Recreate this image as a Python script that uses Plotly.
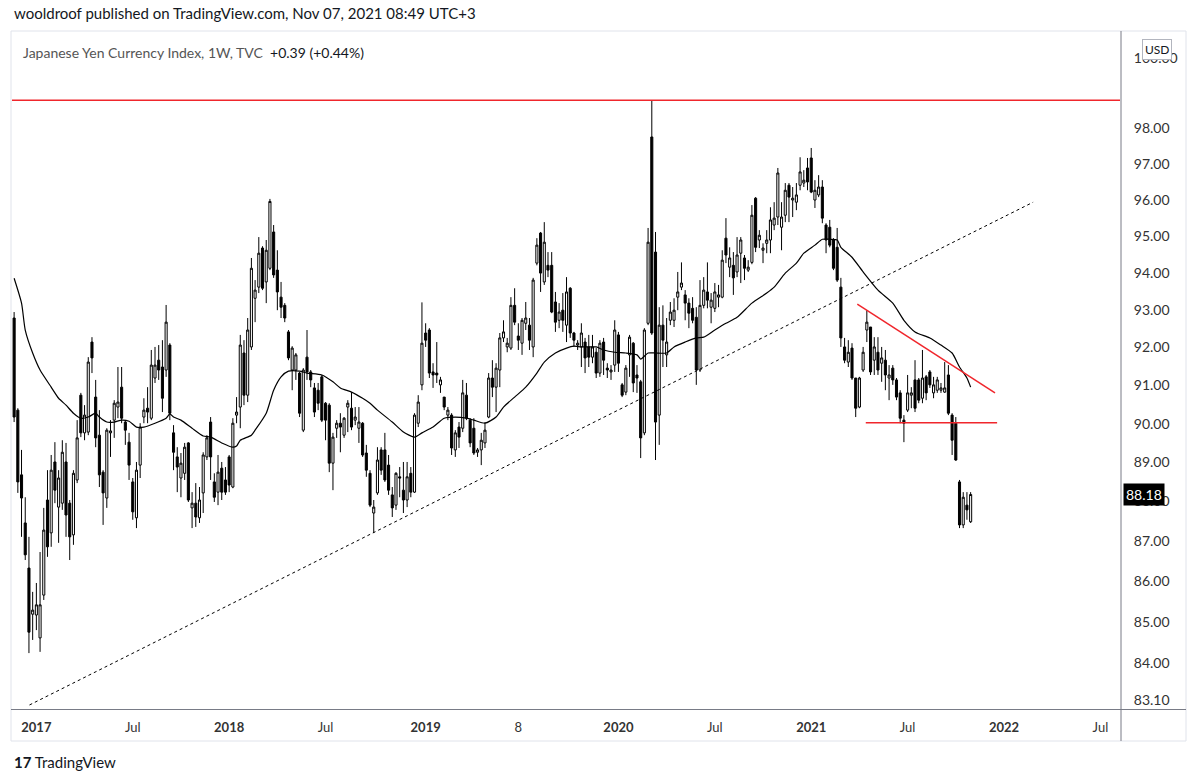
import math
import pandas as pd
import plotly.graph_objects as go

# ---------------- data (weekly bars, first bar week of 2016-11-21) ----------------
first_week = "2016-11-21"

opens = [92.78, 90.35, 88.68, 87.46, 86.33, 85.19, 85.17, 84.61, 85.66, 88.04,
         87.21, 89.01, 87.86, 87.96, 89.01, 87.96, 87.16, 88.55, 90.74, 89.76,
         89.78, 92.14, 90.69, 89.70, 88.75, 88.09, 89.76, 90.09, 90.43, 90.95,
         90.04, 89.52, 88.50, 87.59, 88.93, 90.17, 90.40, 90.14, 91.19, 91.66,
         91.48, 91.40, 92.06, 89.76, 89.14, 88.60, 88.72, 89.50, 87.84, 87.96,
         87.59, 88.22, 89.14, 90.04, 88.50, 88.24, 88.85, 88.55, 89.14, 88.37,
         90.22, 90.43, 91.85, 90.74, 92.01, 93.31, 93.61, 94.67, 93.75, 94.12,
         95.11, 94.07, 93.34, 93.12, 92.41, 91.40, 91.40, 91.32, 89.83, 91.74,
         91.35, 90.93, 90.87, 91.22, 90.53, 90.48, 88.98, 89.88, 90.01, 89.70,
         90.43, 90.40, 90.09, 89.88, 90.01, 89.24, 88.72, 87.71, 88.22, 89.32,
         89.32, 88.93, 88.17, 87.91, 88.63, 88.29, 88.04, 88.72, 88.24, 90.01,
         91.01, 92.38, 92.46, 91.35, 91.32, 91.01, 90.69, 90.22, 90.22, 89.32,
         89.91, 89.88, 90.74, 90.09, 89.88, 89.26, 89.32, 89.50, 90.17, 91.19,
         90.95, 91.40, 92.25, 92.01, 91.98, 93.12, 92.30, 92.11, 92.64, 92.59,
         92.01, 94.26, 95.08, 93.75, 94.20, 94.20, 93.21, 92.72, 92.99, 92.59,
         93.58, 92.38, 92.06, 92.01, 92.14, 92.01, 91.74, 91.87, 91.32, 92.14,
         91.45, 91.35, 91.53, 92.33, 91.01, 90.82, 91.80, 92.11, 91.27, 91.09,
         89.76, 92.64, 97.75, 94.56, 90.22, 92.59, 91.80, 92.72, 92.72, 93.34,
         93.61, 93.40, 93.18, 93.04, 92.80, 91.40, 93.12, 93.48, 93.07, 93.04,
         93.34, 93.34, 94.94, 94.15, 94.20, 94.02, 94.53, 94.40, 94.07, 94.28,
         96.04, 94.89, 94.61, 94.80, 94.89, 95.30, 95.52, 95.24, 95.57, 96.40,
         95.99, 95.93, 96.40, 96.46, 96.88, 97.16, 95.99, 96.13, 96.35, 95.30,
         95.24, 94.89, 94.69, 93.61, 92.01, 91.61, 91.98, 91.19, 90.43, 91.40,
         92.46, 92.54, 91.66, 91.87, 91.58, 91.66, 91.19, 91.45, 91.14, 90.80,
         90.09, 90.35, 90.74, 91.14, 91.14, 90.66, 91.22, 91.35, 90.80, 90.87,
         90.87, 90.82, 91.27, 90.22, 90.01, 88.50, 87.41, 87.91, 87.49]

highs = [92.94, 90.40, 89.32, 88.11, 87.11, 85.74, 85.96, 86.73, 87.84, 88.80,
         89.19, 89.52, 88.80, 89.57, 89.50, 88.04, 88.80, 90.09, 90.80, 90.48,
         91.74, 92.27, 91.14, 90.35, 88.80, 89.88, 90.09, 90.61, 91.48, 91.48,
         90.09, 89.76, 88.60, 89.01, 90.01, 90.66, 90.95, 91.93, 92.01, 92.06,
         92.19, 93.13, 92.11, 89.96, 89.39, 89.24, 89.50, 89.52, 88.24, 88.47,
         88.37, 89.26, 89.70, 90.17, 88.72, 89.19, 89.01, 88.88, 89.19, 90.14,
         90.69, 92.33, 92.19, 92.78, 94.40, 93.80, 94.97, 94.72, 94.89, 96.02,
         95.30, 94.61, 93.75, 93.18, 92.46, 92.03, 91.85, 91.35, 91.45, 92.46,
         91.40, 91.06, 91.06, 91.27, 90.56, 90.53, 89.76, 90.09, 90.27, 90.17,
         90.61, 90.82, 90.43, 90.43, 90.04, 89.45, 88.80, 88.04, 89.39, 89.39,
         89.76, 89.19, 88.37, 88.75, 88.88, 89.01, 89.01, 88.88, 90.27, 90.74,
         93.20, 92.64, 92.51, 91.58, 92.14, 91.22, 90.69, 90.43, 90.27, 89.83,
         90.04, 91.14, 91.06, 90.14, 90.14, 89.37, 89.76, 90.04, 91.32, 91.66,
         91.58, 92.38, 92.72, 92.25, 93.34, 93.58, 92.64, 92.78, 93.21, 92.78,
         93.86, 94.94, 95.11, 95.38, 94.56, 94.56, 93.48, 93.18, 93.45, 93.88,
         93.61, 92.41, 92.19, 92.64, 92.25, 92.33, 92.33, 91.98, 92.19, 92.25,
         91.58, 91.53, 92.72, 92.41, 91.06, 91.53, 92.33, 92.14, 91.53, 91.14,
         92.51, 95.22, 98.79, 95.11, 93.07, 93.12, 92.78, 93.21, 93.31, 94.02,
         94.28, 93.53, 93.31, 93.34, 93.07, 93.80, 93.88, 94.28, 93.45, 93.72,
         93.67, 94.61, 95.49, 94.69, 94.56, 94.97, 94.97, 94.48, 94.34, 95.85,
         96.07, 95.16, 94.80, 95.16, 95.79, 95.93, 96.88, 95.93, 96.46, 96.46,
         96.35, 96.46, 97.18, 96.82, 97.16, 97.44, 96.54, 96.68, 96.54, 95.35,
         95.44, 94.94, 95.22, 93.86, 92.25, 92.19, 92.11, 91.19, 91.22, 92.01,
         92.99, 92.54, 92.27, 92.27, 92.01, 91.93, 91.53, 91.53, 91.19, 90.87,
         90.22, 91.27, 90.95, 91.66, 91.19, 91.93, 91.27, 91.40, 91.22, 91.22,
         91.06, 91.61, 91.53, 90.27, 90.17, 88.55, 88.24, 88.24, 88.24]

lows = [90.04, 88.22, 87.11, 86.53, 84.24, 84.56, 84.80, 84.27, 85.54, 86.61,
        86.86, 87.96, 86.96, 87.79, 87.11, 86.53, 86.91, 88.47, 89.65, 89.57,
        89.70, 91.32, 89.39, 88.37, 87.41, 87.84, 89.14, 89.63, 90.14, 90.01,
        89.45, 88.55, 87.54, 87.33, 88.60, 90.01, 90.01, 90.09, 91.06, 91.14,
        90.30, 91.22, 90.09, 88.80, 88.24, 88.11, 88.55, 87.99, 87.33, 87.36,
        87.46, 87.71, 89.06, 88.55, 87.99, 87.91, 88.04, 88.17, 88.24, 88.34,
        90.01, 89.88, 90.48, 90.56, 91.93, 92.67, 93.45, 93.53, 93.18, 94.07,
        93.86, 92.99, 92.78, 92.67, 91.66, 90.87, 91.14, 90.17, 89.78, 91.14,
        90.95, 90.17, 90.35, 90.04, 89.57, 88.75, 88.29, 89.63, 89.26, 89.63,
        89.78, 89.83, 89.96, 89.50, 89.14, 88.63, 87.86, 87.21, 88.17, 88.68,
        88.50, 88.17, 87.61, 87.79, 88.11, 87.71, 87.86, 88.11, 88.22, 89.91,
        90.87, 92.01, 91.19, 90.93, 91.06, 90.80, 90.35, 90.09, 89.19, 89.14,
        89.37, 89.78, 90.09, 89.39, 89.19, 89.14, 88.93, 89.37, 90.14, 90.69,
        90.30, 90.95, 92.14, 91.87, 91.93, 92.59, 91.93, 91.80, 92.46, 91.93,
        91.74, 94.20, 93.48, 93.67, 93.88, 92.91, 92.41, 92.51, 92.41, 92.14,
        92.25, 92.01, 91.93, 91.48, 91.32, 91.48, 91.58, 91.19, 91.22, 91.27,
        91.19, 91.14, 91.35, 91.35, 90.69, 90.74, 91.22, 90.82, 90.80, 89.11,
        89.70, 92.59, 92.33, 89.06, 89.45, 91.48, 91.48, 92.59, 92.54, 92.99,
        93.53, 92.72, 92.51, 92.64, 91.01, 91.35, 93.04, 93.04, 92.64, 92.94,
        93.07, 93.31, 94.26, 93.88, 93.40, 93.88, 93.72, 93.80, 94.02, 94.23,
        94.56, 94.67, 94.26, 94.53, 94.53, 95.16, 95.30, 94.61, 95.38, 95.38,
        95.52, 95.71, 96.26, 96.35, 96.26, 96.18, 95.77, 96.07, 95.35, 94.53,
        94.69, 94.07, 93.75, 92.01, 91.58, 91.48, 91.14, 90.17, 90.40, 91.35,
        92.14, 91.27, 91.27, 91.27, 91.09, 90.87, 90.61, 91.01, 90.61, 90.01,
        89.52, 90.30, 90.40, 90.30, 90.53, 90.53, 90.61, 90.93, 90.66, 90.80,
        90.80, 90.80, 90.22, 89.19, 89.04, 87.33, 87.33, 87.54, 87.46]

closes = [90.17, 88.50, 88.09, 86.66, 84.75, 85.29, 85.42, 85.42, 87.28, 86.86,
          88.80, 88.29, 88.60, 89.26, 87.66, 87.11, 88.72, 89.63, 89.76, 90.22,
          91.61, 91.72, 89.63, 88.68, 88.22, 89.83, 89.81, 90.53, 90.56, 90.14,
          89.83, 88.93, 87.74, 88.80, 89.91, 90.35, 90.30, 91.53, 91.53, 91.40,
          90.66, 92.67, 90.27, 89.26, 88.88, 88.98, 89.39, 88.04, 87.96, 87.61,
          88.04, 89.19, 89.63, 89.14, 88.11, 88.75, 88.24, 88.24, 88.42, 90.01,
          90.30, 92.06, 90.74, 92.46, 94.12, 93.53, 94.53, 93.58, 94.61, 95.95,
          93.94, 93.48, 93.07, 92.78, 91.72, 91.98, 91.80, 90.27, 91.40, 91.35,
          91.14, 90.30, 90.53, 90.09, 90.09, 88.98, 89.65, 90.01, 89.91, 90.14,
          90.53, 89.91, 90.17, 90.04, 89.19, 88.80, 87.91, 87.86, 89.06, 88.80,
          88.55, 88.29, 87.84, 88.72, 88.60, 88.04, 88.63, 88.24, 90.22, 90.56,
          92.11, 92.19, 91.32, 91.27, 91.27, 91.14, 90.43, 90.35, 89.37, 89.76,
          89.65, 90.80, 90.14, 89.50, 89.24, 89.32, 89.57, 89.83, 91.19, 90.95,
          91.45, 92.25, 92.41, 92.11, 93.12, 92.67, 92.19, 92.72, 92.78, 92.19,
          93.80, 94.75, 93.99, 94.83, 94.07, 92.94, 92.67, 92.94, 92.72, 93.48,
          92.38, 92.19, 92.11, 92.38, 91.72, 91.74, 92.01, 91.32, 92.11, 91.66,
          91.40, 91.40, 92.46, 91.58, 90.74, 91.45, 92.27, 91.06, 91.19, 89.63,
          92.46, 94.83, 92.38, 90.04, 92.59, 92.19, 92.14, 92.94, 92.99, 93.48,
          93.72, 93.18, 92.91, 92.72, 91.40, 93.12, 93.53, 93.26, 93.26, 93.48,
          93.40, 94.34, 94.48, 94.40, 93.86, 94.48, 94.89, 94.12, 94.15, 95.57,
          94.69, 95.02, 94.67, 94.89, 95.44, 95.49, 96.74, 95.52, 96.26, 96.07,
          96.04, 96.13, 96.77, 96.54, 96.49, 96.21, 96.26, 96.35, 95.49, 94.89,
          94.75, 94.12, 93.80, 92.25, 91.66, 91.87, 91.19, 90.40, 91.19, 91.87,
          92.67, 91.35, 92.01, 91.40, 91.72, 91.27, 91.27, 91.14, 90.69, 90.14,
          90.01, 90.80, 90.80, 90.40, 90.61, 91.19, 90.80, 91.01, 91.01, 91.14,
          90.93, 90.93, 90.27, 89.57, 89.06, 87.41, 88.11, 87.79, 88.18]

# moving average: week index -> value
ma_week = [0, 2, 3, 5, 7, 10, 12, 14, 16, 18, 20, 22, 23, 25, 27, 29, 31, 33, 35, 38,
           41, 42, 43, 45, 48, 51, 53, 56, 59, 60, 61, 64, 65, 68, 70, 72, 74, 77, 79, 83,
           86, 88, 91, 94, 96, 98, 102, 105, 108, 110, 113, 116, 119, 122, 124, 127, 130, 132, 135, 138,
           141, 143, 146, 149, 151, 153, 157, 159, 162, 165, 168, 169, 171, 173, 176, 178, 181, 184, 186, 189,
           192, 195, 199, 203, 205, 208, 211, 213, 216, 218, 220, 222, 223, 226, 229, 233, 237, 240, 243, 247,
           250, 253, 255, 257, 258]
ma_val = [93.85, 93.18, 92.46, 91.85, 91.40, 90.95, 90.66, 90.48, 90.27, 90.14, 90.17, 90.27, 90.17, 90.04, 90.04, 90.09, 90.06, 89.91, 89.91, 90.01,
          90.14, 90.25, 90.17, 90.09, 89.88, 89.68, 89.65, 89.50, 89.39, 89.42, 89.57, 89.70, 89.83, 90.27, 90.87, 91.22, 91.37, 91.37, 91.32, 91.27,
          91.09, 90.93, 90.82, 90.66, 90.53, 90.35, 90.04, 89.78, 89.65, 89.76, 89.91, 90.14, 90.17, 90.14, 90.09, 90.01, 90.17, 90.43, 90.69, 90.95,
          91.32, 91.61, 91.85, 91.98, 92.03, 92.01, 92.01, 91.93, 91.87, 91.85, 91.80, 91.69, 91.85, 91.85, 91.85, 92.01, 92.14, 92.25, 92.27, 92.46,
          92.64, 92.80, 93.18, 93.45, 93.61, 93.99, 94.26, 94.53, 94.75, 94.91, 94.91, 94.89, 94.69, 94.42, 94.02, 93.53, 93.18, 92.72, 92.41, 92.25,
          92.06, 91.85, 91.48, 91.19, 90.95]

# drawings (dates, prices)
resistance_level = 98.79
support_dates = ["2021-04-17", "2021-12-21"]
support_level = [90.02, 90.02]
falling_line_dates = ["2021-04-01", "2021-12-17"]
falling_line_vals = [93.15, 90.80]
rising_line_dates = ["2016-12-20", "2022-02-27"]
rising_line_vals = [82.99, 95.93]

price_ticks = [83.10, 84, 85, 86, 87, 88, 89, 90, 91, 92, 93, 94, 95, 96, 97, 98, 100]
time_tick_dates = ["2017-01-02", "2017-07-03", "2018-01-01", "2018-07-02", "2019-01-07", "2019-07-01",
                   "2020-01-06", "2020-07-06", "2021-01-04", "2021-07-05", "2022-01-03", "2022-07-04"]
time_tick_text = ["<b>2017</b>", "Jul", "<b>2018</b>", "Jul", "<b>2019</b>", "8",
                  "<b>2020</b>", "Jul", "<b>2021</b>", "Jul", "<b>2022</b>", "Jul"]
last_price = 88.18

# ---------------- figure ----------------
dates = pd.date_range(first_week, periods=len(closes), freq="7D")
x_start, x_end = "2016-11-17", "2022-08-10"
y_lo, y_hi = 82.87, 100.81

fig = go.Figure()
fig.add_trace(go.Candlestick(
    x=dates, open=opens, high=highs, low=lows, close=closes,
    increasing=dict(line=dict(color="#000000", width=1), fillcolor="#ffffff"),
    decreasing=dict(line=dict(color="#000000", width=1), fillcolor="#000000"),
    whiskerwidth=0, hoverinfo="skip", showlegend=False))

fig.add_trace(go.Scatter(
    x=[dates[i] for i in ma_week], y=ma_val, mode="lines",
    line=dict(color="#000000", width=1.2, shape="spline", smoothing=0.6),
    hoverinfo="skip", showlegend=False))

fig.add_trace(go.Scatter(x=rising_line_dates, y=rising_line_vals, mode="lines",
                         line=dict(color="#000000", width=1, dash="dot"),
                         hoverinfo="skip", showlegend=False))
red = "#f0262c"
fig.add_trace(go.Scatter(x=[x_start, x_end], y=[resistance_level, resistance_level], mode="lines",
                         line=dict(color=red, width=1.5), hoverinfo="skip", showlegend=False))
fig.add_trace(go.Scatter(x=support_dates, y=support_level, mode="lines",
                         line=dict(color=red, width=1.5), hoverinfo="skip", showlegend=False))
fig.add_trace(go.Scatter(x=falling_line_dates, y=falling_line_vals, mode="lines",
                         line=dict(color=red, width=1.5), hoverinfo="skip", showlegend=False))

L, R, T, B = 12, 80, 30, 72
W, H = 1200, 782
pw, ph = W - L - R, H - T - B


def px(xp):
    return (xp - L) / pw


def py(yp):
    return (H - B - yp) / ph


axis_font = dict(family="Lato, Open Sans, sans-serif", size=14, color="#333333")

fig.update_layout(
    width=W, height=H, margin=dict(l=L, r=R, t=T, b=B),
    paper_bgcolor="#ffffff", plot_bgcolor="#ffffff",
    showlegend=False, boxgap=0.2,
    xaxis=dict(type="date", range=[x_start, x_end], rangeslider=dict(visible=False),
               tickvals=time_tick_dates, ticktext=time_tick_text,
               ticks="outside", ticklen=5, tickcolor="rgba(0,0,0,0)",
               showgrid=False, zeroline=False, showline=False,
               tickfont=dict(family="Lato, Open Sans, sans-serif", size=13, color="#333333")),
    yaxis=dict(type="log", side="right", range=[math.log10(y_lo), math.log10(y_hi)],
               tickvals=price_ticks, ticktext=["%.2f" % v for v in price_ticks],
               ticks="outside", ticklen=10, tickcolor="rgba(0,0,0,0)",
               showgrid=False, zeroline=False, showline=False, tickfont=axis_font),
)

shapes = [
    dict(type="rect", xref="paper", yref="paper", x0=px(11), x1=px(1186), y0=py(741), y1=py(31),
         line=dict(color="#e0e3eb", width=1), fillcolor="rgba(0,0,0,0)", layer="below"),
    dict(type="line", xref="paper", yref="paper", x0=px(1121), x1=px(1121), y0=py(741), y1=py(31),
         line=dict(color="#787b86", width=1)),
    dict(type="line", xref="paper", yref="paper", x0=px(11), x1=px(1186), y0=py(709.5), y1=py(709.5),
         line=dict(color="#787b86", width=1)),
]
fig.update_layout(shapes=shapes)

ann = [
    dict(xref="paper", yref="paper", x=px(12), y=py(13), xanchor="left", yanchor="middle",
         text="wooldroof published on TradingView.com, Nov 07, 2021 08:49 UTC+3",
         showarrow=False, font=dict(family="Lato, sans-serif", size=15, color="#131722")),
    dict(xref="paper", yref="paper", x=px(21), y=py(52), xanchor="left", yanchor="middle",
         text='<span style="color:#555555">Japanese Yen Currency Index, 1W, TVC</span>'
              '  <span style="color:#131722">+0.39 (+0.44%)</span>',
         showarrow=False, font=dict(family="Lato, sans-serif", size=14, color="#555555")),
    dict(xref="paper", yref="paper", x=px(1157), y=py(49), xanchor="center", yanchor="middle",
         text="USD", showarrow=False, bgcolor="#ffffff", bordercolor="#b2b5be", borderwidth=1, borderpad=2,
         font=dict(family="Lato, sans-serif", size=12, color="#131722")),
    dict(xref="paper", yref="y", x=px(1123), y=math.log10(last_price), xanchor="left", yanchor="middle",
         text="%.2f" % last_price, showarrow=False, bgcolor="#000000", borderpad=2,
         font=dict(family="Lato, sans-serif", size=14, color="#ffffff")),
    dict(xref="paper", yref="paper", x=px(12), y=py(762), xanchor="left", yanchor="middle",
         text="<b>17</b> TradingView", showarrow=False,
         font=dict(family="Lato, sans-serif", size=15, color="#131722")),
]
fig.update_layout(annotations=ann)

fig.write_html("out.html")
